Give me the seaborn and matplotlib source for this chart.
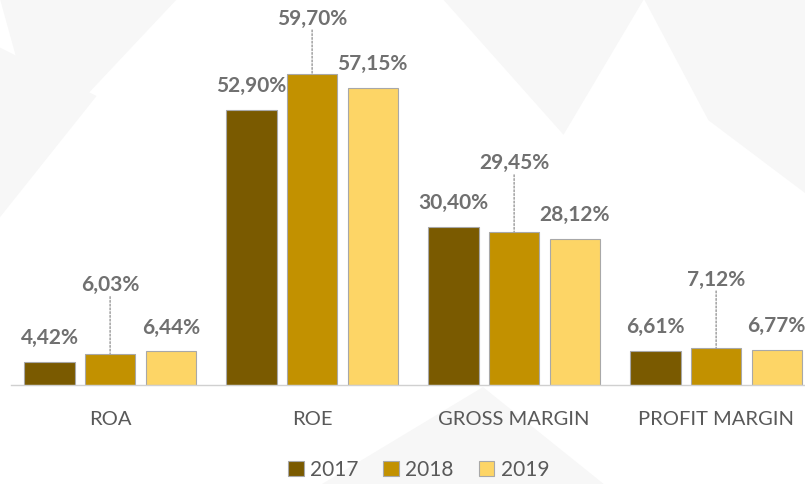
import matplotlib.pyplot as plt
from matplotlib.patches import Polygon
import seaborn as sns
import pandas as pd

# ============================================================================
# Data
# ============================================================================

metrics = ["ROA", "ROE", "GROSS MARGIN", "PROFIT MARGIN"]
years = ["2017", "2018", "2019"]

values_2017 = [4.42, 52.90, 30.40, 6.61]
values_2018 = [6.03, 59.70, 29.45, 7.12]
values_2019 = [6.44, 57.15, 28.12, 6.77]

colors = ["#7a5a00", "#c29100", "#fdd566"]

df = pd.DataFrame({
    "metric": metrics * 3,
    "year": [y for y in years for _ in metrics],
    "value": values_2017 + values_2018 + values_2019,
})

# ============================================================================
# Figure
# ============================================================================

sns.set_theme(style="white")
plt.rcParams["font.family"] = ["Lato", "DejaVu Sans"]

fig = plt.figure(figsize=(8.05, 4.85), dpi=100)
fig.patch.set_facecolor("#ffffff")

# faint polygon background
bg_shapes = [
    [(0.00, 1.00), (0.22, 1.00), (0.05, 0.70)],
    [(0.55, 1.00), (0.80, 1.00), (0.70, 0.72)],
    [(0.80, 1.00), (1.00, 1.00), (1.00, 0.60), (0.88, 0.75)],
    [(0.00, 0.55), (0.12, 0.80), (0.00, 0.90)],
    [(0.40, 0.00), (0.75, 0.00), (0.60, 0.20)],
]
for pts in bg_shapes:
    fig.patches.append(Polygon(pts, closed=True, transform=fig.transFigure,
                               facecolor="#f7f7f7", edgecolor="none", zorder=-5))

ax = fig.add_axes([0, 1 - 386 / 485, 1, 386 / 485])
ax.set_facecolor("none")

sns.barplot(
    data=df,
    x="metric",
    y="value",
    hue="year",
    palette=colors,
    saturation=1,
    width=0.9,
    gap=0.17,
    edgecolor="#a8a8a8",
    linewidth=0.8,
    ax=ax,
)

ax.set_xlim(-0.545, 3.44)
ax.set_ylim(0, 74.2)
ax.set_xlabel("")
ax.set_ylabel("")
ax.set_yticks([])
ax.tick_params(axis="x", length=0, pad=18, labelsize=14.5, labelcolor="#595959")

for side in ["top", "right", "left"]:
    ax.spines[side].set_visible(False)
ax.spines["bottom"].set_color("#d0d0d0")
ax.spines["bottom"].set_linewidth(1)
ax.spines["bottom"].set_bounds(-0.49, 3.44)

# ============================================================================
# Value labels
# ============================================================================

for i, container in enumerate(ax.containers):
    for bar in container:
        v = bar.get_height()
        x = bar.get_x() + bar.get_width() / 2
        text = f"{v:.2f}".replace(".", ",") + "%"
        if i == 1:
            # middle bar label raised with a dotted leader, kept inside the top
            offset = 41 if v > 50 else 50
            ax.annotate(
                "", xy=(x, v), xytext=(0, offset - 9),
                textcoords="offset points",
                arrowprops=dict(arrowstyle="-", linestyle=(0, (1.5, 1.5)),
                                color="#8c8c8c", linewidth=0.9,
                                shrinkA=0, shrinkB=0),
            )
        else:
            offset = 18
        ax.annotate(
            text, xy=(x, v), xytext=(0, offset),
            textcoords="offset points",
            ha="center", va="center",
            fontsize=15, fontweight="bold", color="#707070",
        )

# ============================================================================
# Legend
# ============================================================================

handles, labels = ax.get_legend_handles_labels()
ax.legend_.remove()
fig.legend(
    handles, labels,
    loc="center", bbox_to_anchor=(0.52, 0.03),
    ncol=3, frameon=False,
    fontsize=15, labelcolor="#595959",
    handlelength=0.75, handleheight=0.75,
    handletextpad=0.3, columnspacing=1.2,
)

fig.savefig("out.png", dpi=100, facecolor=fig.get_facecolor())
